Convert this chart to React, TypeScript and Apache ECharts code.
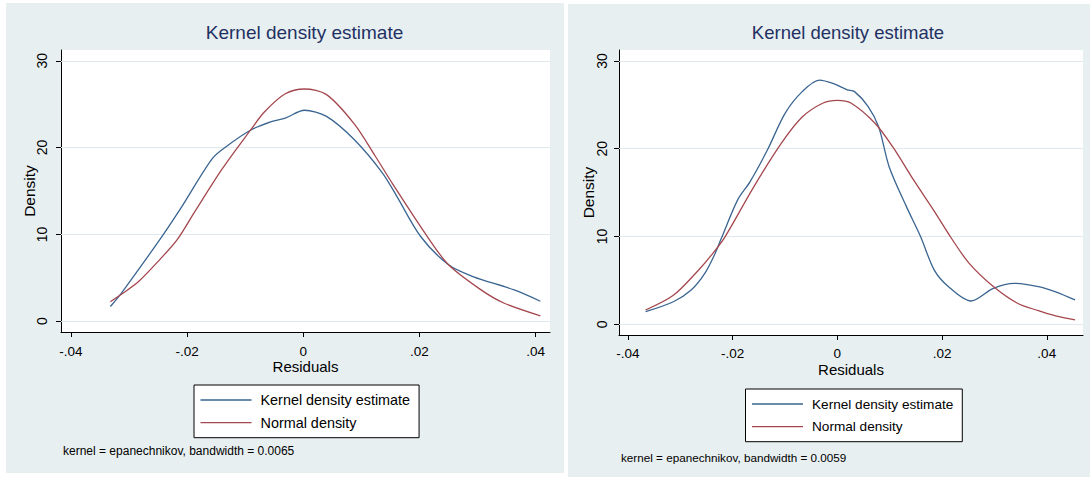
import React, { useEffect, useRef } from "react";
import * as echarts from "echarts";

// ---------- text ----------
const seriesNames = ["Kernel density estimate", "Normal density"];
const chartTitle = "Kernel density estimate";
const xAxisTitle = "Residuals";
const yAxisTitle = "Density";
const leftNote = "kernel = epanechnikov, bandwidth = 0.0065";
const rightNote = "kernel = epanechnikov, bandwidth = 0.0059";

// ---------- ticks ----------
const xTickValues = [-0.04, -0.02, 0, 0.02, 0.04];
const xTickLabels = ["-.04", "-.02", "0", ".02", ".04"];
const yTickValues = [0, 10, 20, 30];
const yTickLabels = ["0", "10", "20", "30"];

// ---------- left panel data ----------
const leftKdeX = [-0.0332, -0.0313, -0.0247, -0.0211, -0.0157, -0.0133, -0.0091, -0.0055, -0.0031, 0.0002, 0.004, 0.0088, 0.0136, 0.016, 0.0202, 0.025, 0.0292, 0.0363, 0.0408];
const leftKdeY = [1.7, 3.25, 9.4, 13.0, 18.7, 20.1, 22.0, 23.0, 23.4, 24.3, 23.6, 20.9, 17.1, 14.5, 9.76, 6.5, 5.15, 3.6, 2.3];
const leftNormX = [-0.0332, -0.0313, -0.0283, -0.0247, -0.0217, -0.0187, -0.0139, -0.0091, -0.0067, -0.0031, 0.0002, 0.004, 0.0088, 0.0124, 0.0154, 0.0214, 0.025, 0.0304, 0.0345, 0.0408];
const leftNormY = [2.25, 3.1, 4.6, 7.1, 9.4, 12.6, 17.6, 22.0, 24.1, 26.2, 26.75, 26.1, 22.7, 19.0, 15.8, 9.7, 6.5, 3.7, 2.1, 0.63];

// ---------- right panel data ----------
const rightKdeX = [-0.0366, -0.0313, -0.0279, -0.0253, -0.0233, -0.0222, -0.019, -0.0167, -0.0133, -0.01, -0.0067, -0.0034, -0.0007, 0.0019, 0.0033, 0.0059, 0.0079, 0.0099, 0.0132, 0.0159, 0.0185, 0.0212, 0.0255, 0.0298, 0.0338, 0.0384, 0.0417, 0.0454];
const rightKdeY = [1.44, 2.57, 3.9, 5.8, 8.1, 9.7, 14.2, 16.2, 19.9, 24.0, 26.5, 27.8, 27.4, 26.7, 26.5, 24.8, 22.5, 17.95, 13.4, 10.0, 6.2, 4.3, 2.65, 4.1, 4.67, 4.3, 3.7, 2.77];
const rightNormX = [-0.0366, -0.0313, -0.0266, -0.024, -0.0215, -0.016, -0.0107, -0.0067, -0.0027, 0.0, 0.0026, 0.0072, 0.0106, 0.0145, 0.0185, 0.0218, 0.0251, 0.0298, 0.0344, 0.0384, 0.0417, 0.0454];
const rightNormY = [1.63, 3.3, 6.1, 7.9, 9.9, 15.6, 20.6, 23.6, 25.2, 25.5, 25.2, 22.9, 20.2, 16.5, 12.9, 9.8, 7.0, 4.3, 2.4, 1.55, 0.95, 0.49];

const FONT = "'Liberation Sans', Arial, Helvetica, sans-serif";
const BLUE = "#3a6591";
const RED = "#a4474e";
const PANEL_BG = "#e8eff1";
const GRID_LINE = "#dfe9ed";
const LEGEND_ICON = "path://M0,0H51V1.3H0Z";

const zip = (xs: number[], ys: number[]) => xs.map((x, i) => [x, ys[i]]);

const fmtX = (v: number) => {
  const i = xTickValues.findIndex((t) => Math.abs(t - v) < 1e-9);
  return i >= 0 ? xTickLabels[i] : "";
};
const fmtY = (v: number) => {
  const i = yTickValues.findIndex((t) => Math.abs(t - v) < 1e-9);
  return i >= 0 ? yTickLabels[i] : "";
};

function makeXAxis(gridIndex: number, min: number, max: number, labelMargin: number, nameGap: number) {
  return {
    type: "value",
    gridIndex,
    min,
    max,
    name: xAxisTitle,
    nameLocation: "middle",
    nameGap,
    nameMoveOverlap: false,
    nameTextStyle: { fontFamily: FONT, fontSize: 15, color: "#000", lineHeight: 15 },
    axisLine: { show: true, onZero: false, lineStyle: { color: "#000", width: 1 } },
    axisTick: { show: true, customValues: xTickValues, length: 5, lineStyle: { color: "#000", width: 1 } },
    axisLabel: {
      show: true,
      customValues: xTickValues,
      formatter: fmtX,
      margin: labelMargin,
      fontFamily: FONT,
      fontSize: 13.5,
      lineHeight: 13.5,
      color: "#000",
    },
    splitLine: { show: false },
  };
}

function makeYAxis(gridIndex: number, min: number, max: number, labelMargin: number, nameGap: number) {
  return {
    type: "value",
    gridIndex,
    min,
    max,
    name: yAxisTitle,
    nameLocation: "middle",
    nameRotate: 90,
    nameGap,
    nameMoveOverlap: false,
    nameTextStyle: { fontFamily: FONT, fontSize: 15.5, color: "#000" },
    axisLine: { show: true, onZero: false, lineStyle: { color: "#000", width: 1 } },
    axisTick: { show: true, customValues: yTickValues, length: 5, lineStyle: { color: "#000", width: 1 } },
    axisLabel: {
      show: true,
      customValues: yTickValues,
      formatter: fmtY,
      rotate: 90,
      margin: labelMargin,
      fontFamily: FONT,
      fontSize: 14,
      color: "#000",
    },
    splitLine: { show: false },
  };
}

function lineSeries(name: string, idx: number, data: number[][], color: string, withGrid: boolean) {
  const s: any = {
    type: "line",
    name,
    xAxisIndex: idx,
    yAxisIndex: idx,
    data,
    symbol: "none",
    smooth: 0.3,
    lineStyle: { color, width: 1.3 },
    itemStyle: { color },
    z: 3,
  };
  if (withGrid) {
    s.markLine = {
      silent: true,
      symbol: ["none", "none"],
      label: { show: false },
      lineStyle: { color: GRID_LINE, width: 1, type: "solid" },
      data: yTickValues.map((v) => ({ yAxis: v })),
      z: 1,
    };
  }
  return s;
}

function makeLegend(left: number, top: number, fontSize: number) {
  return {
    left,
    top,
    orient: "vertical",
    data: seriesNames.map((n) => ({ name: n, icon: LEGEND_ICON })),
    selectedMode: false,
    backgroundColor: "#fff",
    borderColor: "#000",
    borderWidth: 1,
    borderRadius: 0,
    padding: [8, 9, 8, 6.5],
    itemWidth: 51,
    itemHeight: 14,
    itemGap: 8.7,
    textStyle: { fontFamily: FONT, fontSize, color: "#000", padding: [0, 0, 0, 4] },
  };
}

export default function App() {
  const ref = useRef<HTMLDivElement>(null);

  useEffect(() => {
    if (!ref.current) return;
    const chart = echarts.init(ref.current, null, { renderer: "svg" });
    const option: any = {
      animation: false,
      backgroundColor: "#fff",
      graphic: [
        { type: "rect", z: -10, silent: true, shape: { x: 6, y: 3, width: 558, height: 470 }, style: { fill: PANEL_BG } },
        { type: "rect", z: -10, silent: true, shape: { x: 568, y: 4, width: 522, height: 473 }, style: { fill: PANEL_BG } },
        {
          type: "text", left: 63, top: 445,
          style: { text: leftNote, fontFamily: FONT, fontSize: 12, fill: "#000" },
        },
        {
          type: "text", left: 621, top: 451,
          style: { text: rightNote, fontFamily: FONT, fontSize: 11.7, fill: "#000" },
        },
      ],
      title: [
        {
          text: chartTitle, left: 304.5, top: 23, textAlign: "center", padding: 0,
          textStyle: { fontFamily: FONT, fontSize: 19, fontWeight: "normal", color: "#1f3163" },
        },
        {
          text: chartTitle, left: 848, top: 23, textAlign: "center", padding: 0,
          textStyle: { fontFamily: FONT, fontSize: 18.5, fontWeight: "normal", color: "#1f3163" },
        },
      ],
      legend: [makeLegend(194, 385, 14.4), makeLegend(745.5, 389, 13.6)],
      grid: [
        { left: 61, top: 50, width: 489, height: 282, show: true, backgroundColor: "#fff", borderWidth: 0 },
        { left: 619, top: 50, width: 464, height: 285, show: true, backgroundColor: "#fff", borderWidth: 0 },
      ],
      xAxis: [
        makeXAxis(0, -0.0417, 0.04246, 13, 27),
        makeXAxis(1, -0.04168, 0.04692, 12, 26.5),
      ],
      yAxis: [
        makeYAxis(0, -1.24, 31.24, 12, 24),
        makeYAxis(1, -1.22, 31.24, 10, 23),
      ],
      series: [
        lineSeries(seriesNames[0], 0, zip(leftKdeX, leftKdeY), BLUE, true),
        lineSeries(seriesNames[1], 0, zip(leftNormX, leftNormY), RED, false),
        lineSeries(seriesNames[0], 1, zip(rightKdeX, rightKdeY), BLUE, true),
        lineSeries(seriesNames[1], 1, zip(rightNormX, rightNormY), RED, false),
      ],
    };
    chart.setOption(option);
    return () => chart.dispose();
  }, []);

  return (
    <div
      ref={ref}
      style={{ position: "absolute", left: 0, top: 0, width: 1090, height: 477 }}
    />
  );
}
